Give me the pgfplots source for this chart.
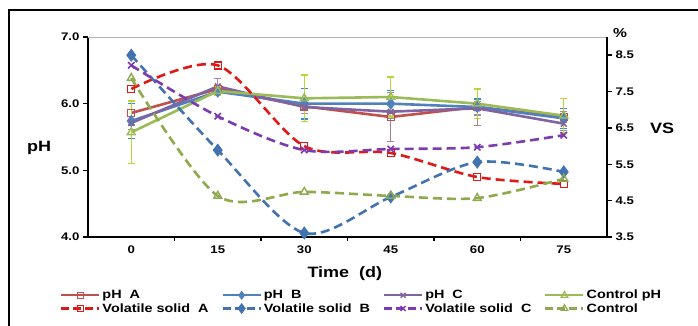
\documentclass[border=0pt]{standalone}
\usepackage{fontspec}
\setmainfont[FakeStretch=1.2]{Liberation Sans}
\usepackage{pgfplots}
\usepackage{pgfplotstable}
\pgfplotsset{compat=1.18}

\definecolor{cA}{HTML}{C0504D}
\definecolor{cB}{HTML}{4F81BD}
\definecolor{cC}{HTML}{8064A2}
\definecolor{cK}{HTML}{9BBB59}
\definecolor{eA}{HTML}{B07F8F}
\definecolor{eB}{HTML}{2E8FD8}
\definecolor{eC}{HTML}{9B88B8}
\definecolor{eK}{HTML}{BCD630}
\definecolor{vA}{HTML}{E01818}
\definecolor{vB}{HTML}{4272B0}
\definecolor{vC}{HTML}{7A3CB0}
\definecolor{vK}{HTML}{8FAA4E}

\pgfplotstableread{
x  A    Ae   B    Be   C    Ce   K    Ke
0  5.86 0.18 5.74 0.26 5.71 0.10 5.57 0.47
15 6.22 0.05 6.18 0.06 6.26 0.12 6.19 0.06
30 5.96 0.05 6.00 0.23 5.95 0.10 6.08 0.35
45 5.80 0.37 6.00 0.20 5.88 0.10 6.10 0.30
60 5.95 0.28 5.95 0.12 5.93 0.10 6.00 0.22
75 5.80 0.08 5.78 0.15 5.70 0.10 5.82 0.26
}\phdata

\pgfplotstableread{
x  A    B    C    K
0  7.57 8.50 8.22 7.87
15 8.22 5.89 6.82 4.63
30 6.00 3.61 5.89 4.74
45 5.81 4.60 5.92 4.63
60 5.15 5.56 5.97 4.57
75 4.96 5.29 6.30 5.10
}\vsdata

\pgfplotsset{
  common/.style={
    at={(88pt,89pt)}, anchor=south west, scale only axis,
    width=519pt, height=200pt,
    xmin=-7.5, xmax=82.5,
    axis line style={line width=1.8pt,-},
    tick align=outside,
    every tick/.style={black, line width=1.5pt},
    major tick length=5pt, minor tick length=4pt,
    tick label style={font=\fontsize{11}{12}\selectfont\bfseries},
    /pgf/number format/assume math mode=true,
    clip=false,
  },
  legend image code/.code={\draw[mark repeat=2,mark phase=2,#1] plot coordinates {(0pt,0pt) (19pt,0pt) (38pt,0pt)};},
}
\newcommand{\legbox}[1]{\makebox[117pt][l]{#1}}

\begin{document}
\begin{tikzpicture}[x=1pt,y=1pt]
\path[use as bounding box] (0,0) rectangle (698,326);
\draw[line width=1.8pt] (9,-2) -- (9,316) -- (700,316);

\begin{axis}[common,
  ymin=4, ymax=7,
  axis x line*=bottom, axis y line*=left,
  xtick={0,15,30,45,60,75},
  minor xtick={7.5,22.5,37.5,52.5,67.5},
  major x tick style={draw=none},
  ytick={4,5,6,7},
  yticklabel style={/pgf/number format/.cd, fixed, fixed zerofill, precision=1},
  xlabel={Time\ \ (d)},
  xlabel style={at={(axis description cs:0.495,-0.185)}, anchor=center, font=\fontsize{15}{17}\selectfont\bfseries},
  ylabel={pH},
  ylabel style={at={(axis description cs:-0.094,0.445)}, anchor=center, rotate=-90, font=\fontsize{15}{17}\selectfont\bfseries},
]
\addplot[color=cA, line width=2.6pt, mark=square, mark size=3.5pt, mark options={solid, fill=white, line width=1.4pt},
  error bars/.cd, y dir=both, y explicit, error bar style={color=eA, line width=1.3pt}, error mark options={rotate=90, mark size=3.5pt, color=eA, line width=1.3pt}]
  table[x=x, y=A, y error=Ae] {\phdata};
\addplot[color=cB, line width=2.6pt, mark=diamond*, mark size=4pt, mark options={solid},
  error bars/.cd, y dir=both, y explicit, error bar style={color=eB, line width=1.3pt}, error mark options={rotate=90, mark size=3.5pt, color=eB, line width=1.3pt}]
  table[x=x, y=B, y error=Be] {\phdata};
\addplot[color=cC, line width=2.6pt, mark=x, mark size=4pt, mark options={solid, line width=1.6pt},
  error bars/.cd, y dir=both, y explicit, error bar style={color=eC, line width=1.3pt}, error mark options={rotate=90, mark size=3.5pt, color=eC, line width=1.3pt}]
  table[x=x, y=C, y error=Ce] {\phdata};
\addplot[color=cK, line width=2.6pt, mark=triangle, mark size=4.5pt, mark options={solid, fill=white, line width=1.4pt},
  error bars/.cd, y dir=both, y explicit, error bar style={color=eK, line width=1.3pt}, error mark options={rotate=90, mark size=3.5pt, color=eK, line width=1.3pt}]
  table[x=x, y=K, y error=Ke] {\phdata};
\draw[gray!60, line width=0.8pt] (rel axis cs:0,1) -- (rel axis cs:1,1);
\end{axis}

\begin{axis}[common,
  ymin=3.5, ymax=9,
  axis x line=none, axis y line*=right,
  ytick={3.5,4.5,5.5,6.5,7.5,8.5},
  yticklabel style={/pgf/number format/.cd, fixed, fixed zerofill, precision=1},
  legend columns=4,
  legend style={at={(axis description cs:-0.060,-0.245)}, anchor=north west, draw=none, fill=none,
    font=\fontsize{12}{13}\selectfont\bfseries, row sep=-1pt,
    /tikz/every even column/.append style={column sep=0pt}},
  legend cell align=left,
]
\addlegendimage{color=cA, line width=2pt, mark=square, mark size=3pt, mark options={solid, fill=white, line width=1.2pt}}
\addlegendentry{\legbox{pH\ \ A}}
\addlegendimage{color=cB, line width=2pt, mark=diamond*, mark size=3pt, mark options={solid}}
\addlegendentry{\legbox{pH\ \ B}}
\addlegendimage{color=cC, line width=2pt, mark=x, mark size=3.5pt, mark options={solid, line width=1.4pt}}
\addlegendentry{\legbox{pH\ \ C}}
\addlegendimage{color=cK, line width=2pt, mark=triangle, mark size=3.8pt, mark options={solid, fill=white, line width=1.2pt}}
\addlegendentry{\legbox{Control pH}}
\addlegendimage{color=vA, line width=2.4pt, dash pattern=on 8pt off 4pt, mark=square, mark size=3pt, mark options={solid, fill=white, line width=1.2pt}}
\addlegendentry{\legbox{Volatile solid\ \ A}}
\addlegendimage{color=vB, line width=2.4pt, dash pattern=on 8pt off 4pt, mark=diamond*, mark size=3.5pt, mark options={solid}}
\addlegendentry{\legbox{Volatile solid\ \ B}}
\addlegendimage{color=vC, line width=2.4pt, dash pattern=on 8pt off 4pt, mark=x, mark size=3.5pt, mark options={solid, line width=1.4pt}}
\addlegendentry{\legbox{Volatile solid\ \ C}}
\addlegendimage{color=vK, line width=2.4pt, dash pattern=on 8pt off 4pt, mark=triangle, mark size=3.8pt, mark options={solid, fill=white, line width=1.2pt}}
\addlegendentry{\legbox{Control}}

\addplot[forget plot, color=vA, line width=2.6pt, dash pattern=on 9pt off 5pt, smooth, mark=square, mark size=3.5pt, mark options={solid, fill=white, line width=1.4pt}]
  table[x=x, y=A] {\vsdata};
\addplot[forget plot, color=vB, line width=2.6pt, dash pattern=on 9pt off 5pt, smooth, mark=diamond*, mark size=4.5pt, mark options={solid}]
  table[x=x, y=B] {\vsdata};
\addplot[forget plot, color=vC, line width=2.6pt, dash pattern=on 9pt off 5pt, smooth, mark=x, mark size=4.5pt, mark options={solid, line width=1.6pt}]
  table[x=x, y=C] {\vsdata};
\addplot[forget plot, color=vK, line width=2.6pt, dash pattern=on 9pt off 5pt, smooth, mark=triangle, mark size=4.5pt, mark options={solid, fill=white, line width=1.4pt}]
  table[x=x, y=K] {\vsdata};

\node[font=\fontsize{15}{17}\selectfont\bfseries] at (axis description cs:1.106,0.545) {VS};
\node[font=\fontsize{13}{15}\selectfont\bfseries] at (axis description cs:1.025,1.02) {\%};
\end{axis}
\end{tikzpicture}
\end{document}
